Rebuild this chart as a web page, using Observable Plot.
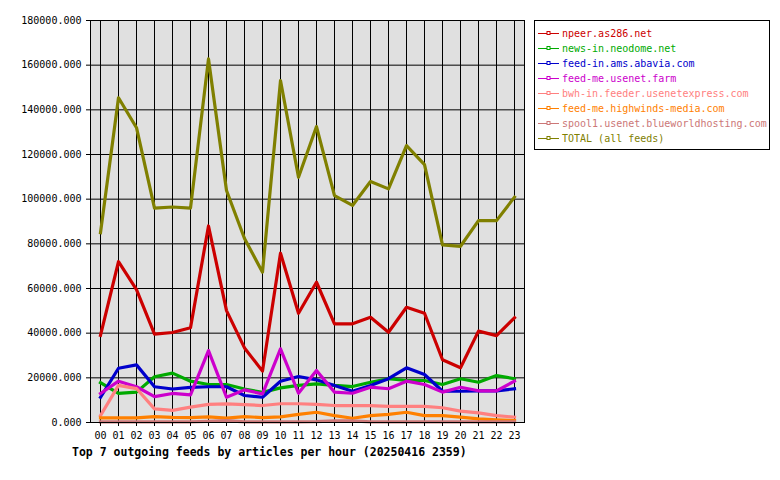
<!DOCTYPE html>
<html>
<head>
<meta charset="utf-8">
<script src="https://cdn.jsdelivr.net/npm/d3@7"></script>
<script src="https://cdn.jsdelivr.net/npm/@observablehq/plot@0.6"></script>
<style>
  html, body { margin: 0; padding: 0; background: #fff; }
  #wrap { position: relative; width: 780px; height: 480px; overflow: hidden; }
  #title {
    position: absolute; left: 72px; top: 445px;
    font: bold 11.5px "DejaVu Sans Mono", monospace; color: #000; white-space: pre;
  }
  #legend {
    position: absolute; left: 534px; top: 20px; width: 236px; height: 130px;
    border: 1px solid #000; background: #fff; box-sizing: border-box;
  }
  .row { position: absolute; left: 3px; height: 15px; display: flex; align-items: center;
    font: 10px "DejaVu Sans Mono", monospace; white-space: pre; }
  .row svg { margin-right: 3px; }
</style>
</head>
<body>
<div id="wrap"></div>
<script>
// Hours of the day
const hours = ["00","01","02","03","04","05","06","07","08","09","10","11",
               "12","13","14","15","16","17","18","19","20","21","22","23"];

// Feed names and their colours
const feeds = [
  "npeer.as286.net",
  "news-in.neodome.net",
  "feed-in.ams.abavia.com",
  "feed-me.usenet.farm",
  "bwh-in.feeder.usenetexpress.com",
  "feed-me.highwinds-media.com",
  "spool1.usenet.blueworldhosting.com",
  "TOTAL (all feeds)"
];
const colors = ["#cc0000", "#00aa00", "#0000cc", "#cc00cc", "#ff8080", "#ff8000", "#cc7777", "#808000"];

// Articles per hour for each feed
const npeer    = [39000, 72000, 59500, 39600, 40300, 42400, 88000, 50100, 33400, 23000, 75800, 48900,
                  62800, 44200, 44200, 47100, 40400, 51600, 48900, 28100, 24500, 40900, 38900, 46900];
const neodome  = [17800, 13000, 13600, 20500, 22100, 18500, 17000, 17000, 15000, 13500, 15500, 16600,
                  17300, 16600, 16100, 18000, 19600, 18800, 18800, 17000, 19600, 18000, 21000, 19600];
const abavia   = [11300, 24300, 25800, 16000, 15000, 15700, 16000, 16000, 12100, 11300, 18500, 20600,
                  19100, 16600, 14000, 16600, 19600, 24500, 21500, 14000, 14000, 14200, 14200, 15100];
const farm     = [13000, 18500, 16000, 11600, 13000, 12400, 32200, 11300, 14600, 12800, 33000, 13100,
                  23300, 13600, 13100, 15800, 15100, 18500, 17000, 13600, 15800, 14200, 14200, 18500];
const bwh      = [3100, 16600, 15200, 6100, 5400, 6900, 8100, 8300, 8000, 7600, 8400, 8400,
                  8100, 7600, 7600, 7600, 7200, 7200, 7200, 6600, 5100, 4300, 3100, 2400];
const highwind = [2100, 2100, 2100, 2600, 2300, 2200, 2500, 2000, 2600, 2200, 2500, 3600,
                  4600, 3100, 1900, 3100, 3600, 4600, 3100, 3100, 2400, 1600, 1200, 900];
const spool1   = [300, 300, 300, 300, 300, 300, 500, 800, 300, 300, 300, 300,
                  400, 700, 700, 300, 300, 300, 300, 300, 300, 300, 300, 300];
const total    = [85000, 145400, 132000, 96000, 96500, 96000, 162800, 103900, 82400, 67300, 153100, 109800,
                  132500, 101600, 97200, 107900, 104600, 124000, 115500, 79500, 78900, 90400, 90400, 100900];

const seriesValues = [npeer, neodome, abavia, farm, bwh, highwind, spool1, total];
const yTicks = [0, 20000, 40000, 60000, 80000, 100000, 120000, 140000, 160000, 180000];

// Long table: one row per feed and hour
const rows = feeds.flatMap((feed, i) =>
  hours.map((h, j) => ({feed, hour: h, value: seriesValues[i][j]})));

const chart = Plot.plot({
  width: 780,
  height: 480,
  marginLeft: 90,
  marginRight: 256,
  marginTop: 20,
  marginBottom: 58,
  style: {background: "#fff", fontFamily: "'DejaVu Sans Mono', monospace", fontSize: "10px", color: "#000"},
  x: {type: "point", domain: hours, padding: 0.5, label: null},
  y: {domain: [0, 180000], label: null},
  color: {domain: feeds, range: colors},
  marks: [
    Plot.frame({fill: "#e0e0e0", stroke: null}),
    Plot.ruleY(yTicks, {stroke: "#000", strokeWidth: 1}),
    Plot.ruleX(hours, {stroke: "#000", strokeWidth: 1}),
    Plot.line(rows, {x: "hour", y: "value", z: "feed", stroke: "feed", strokeWidth: 3.2,
                     strokeLinejoin: "round", strokeLinecap: "square"}),
    Plot.frame({stroke: "#000", strokeWidth: 1}),
    Plot.axisY(yTicks, {tickSize: 4, tickPadding: 5, tickFormat: d3.format(".3f"),
                        fontSize: 10, stroke: "#000", label: null}),
    Plot.axisX(hours, {tickSize: 4, tickPadding: 5, fontSize: 10, stroke: "#000", label: null})
  ]
});

const wrap = document.getElementById("wrap");
wrap.appendChild(chart);

// Title under the plot
const title = document.createElement("div");
title.id = "title";
title.textContent = "Top 7 outgoing feeds by articles per hour (20250416 2359)";
wrap.appendChild(title);

// Legend box to the right of the plot
const legend = document.createElement("div");
legend.id = "legend";
feeds.forEach((feed, i) => {
  const row = document.createElement("div");
  row.className = "row";
  row.style.top = (5 + i * 15) + "px";
  row.style.color = colors[i];
  row.innerHTML =
    `<svg width="21" height="7" style="display:block">` +
    `<line x1="0" y1="3.5" x2="21" y2="3.5" stroke="${colors[i]}" stroke-width="1"/>` +
    `<rect x="9" y="1.5" width="3" height="3" fill="#fff" stroke="${colors[i]}" stroke-width="1"/>` +
    `</svg>`;
  row.appendChild(document.createTextNode(feed));
  legend.appendChild(row);
});
wrap.appendChild(legend);
</script>
</body>
</html>
